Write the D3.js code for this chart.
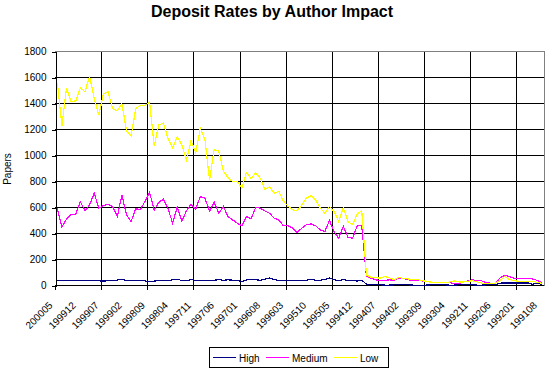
<!DOCTYPE html>
<html><head><meta charset="utf-8">
<script src="https://cdn.jsdelivr.net/npm/d3@7/dist/d3.min.js"></script>
<style>
body{margin:0;background:#fff}
svg{display:block}
text{font-family:"Liberation Sans",Arial,sans-serif;fill:#000}
</style>
</head><body>
<svg id="chart" width="549" height="369"></svg>
<script>
const title = "Deposit Rates by Author Impact";
const yAxisTitle = "Papers";
const months = [
"200005","200004","200003","200002","200001",
"199912","199911","199910","199909","199908","199907","199906","199905","199904","199903","199902","199901",
"199812","199811","199810","199809","199808","199807","199806","199805","199804","199803","199802","199801",
"199712","199711","199710","199709","199708","199707","199706","199705","199704","199703","199702","199701",
"199612","199611","199610","199609","199608","199607","199606","199605","199604","199603","199602","199601",
"199512","199511","199510","199509","199508","199507","199506","199505","199504","199503","199502","199501",
"199412","199411","199410","199409","199408","199407","199406","199405","199404","199403","199402","199401",
"199312","199311","199310","199309","199308","199307","199306","199305","199304","199303","199302","199301",
"199212","199211","199210","199209","199208","199207","199206","199205","199204","199203","199202","199201",
"199112","199111","199110","199109","199108"];
const high = [
41,36,36,36,36,36,39,41,41,36,34,36,38,42,49,38,36,40,41,36,
28,34,38,38,38,44,49,38,36,45,40,38,38,38,40,45,40,44,41,38,
30,42,48,44,40,48,57,45,40,40,40,40,41,41,41,49,41,41,46,57,
44,36,46,39,39,34,41,10,8,5,5,3,3,5,8,8,5,3,3,3,
3,5,8,8,5,3,3,5,8,8,5,3,3,5,8,8,18,20,20,20,
20,20,20,10,20,8];
const medium = [
595,450,510,545,550,645,575,620,710,595,615,625,608,530,695,543,492,590,585,646,
715,580,640,664,590,480,605,495,575,625,588,685,672,572,641,556,608,531,505,480,
459,531,513,600,595,574,556,518,505,459,459,441,408,441,467,474,459,428,415,500,
415,364,454,372,364,459,459,74,56,44,39,39,44,39,56,56,44,40,36,36,
31,26,26,26,24,24,15,15,26,35,44,36,36,20,18,18,60,80,69,56,
56,56,56,50,40,23];
const low = [
1560,1230,1520,1415,1420,1520,1490,1610,1440,1310,1475,1490,1360,1345,1400,1190,1150,1360,1385,1385,
1410,1075,1235,1250,1130,1060,1145,1080,965,1115,1020,1210,1120,810,1045,1035,880,830,800,800,
750,870,825,865,825,740,760,710,725,650,610,582,574,620,672,690,659,597,556,608,
569,492,597,492,467,551,574,82,62,62,56,69,60,44,64,55,51,44,48,38,
31,26,26,26,26,26,35,28,26,33,36,28,18,18,18,18,38,70,46,38,
32,30,28,32,25,18];
const yTicks = [0,200,400,600,800,1000,1200,1400,1600,1800];
const seriesNames = ["High","Medium","Low"];
const seriesColors = ["#000080","#FF00FF","#FFFF00"];
const seriesData = [high, medium, low];

const svg = d3.select("#chart");
const L = 55, R = 544, T = 51.5, B = 285.5;
const x = d3.scaleBand().domain(months).range([L, R]).paddingInner(0).paddingOuter(0);
const y = d3.scaleLinear().domain([0, 1800]).range([B, T]);
const bw = x.bandwidth();
const cx = d => x(d) + bw / 2;

// title
svg.append("text").attr("x", 272).attr("y", 17).attr("text-anchor", "middle")
  .style("font-size", "16px").style("font-weight", "bold").text(title);

// horizontal gridlines
svg.append("g").selectAll("line").data(yTicks.filter(v => v > 0 && v < 1800)).join("line")
  .attr("x1", L).attr("x2", R).attr("y1", d => y(d)).attr("y2", d => y(d))
  .attr("stroke", "#000").attr("stroke-width", 1).attr("shape-rendering", "crispEdges");

// vertical gridlines every 10 categories (at category boundaries)
const gridCats = months.filter((m, i) => i % 10 === 0);
const gx = d => Math.round(x(d)) + 0.5;
svg.append("g").selectAll("line").data(gridCats.slice(1)).join("line")
  .attr("x1", gx).attr("x2", gx).attr("y1", T).attr("y2", B)
  .attr("stroke", "#000").attr("stroke-width", 1).attr("shape-rendering", "crispEdges");

// plot border top / right (gray)
svg.append("line").attr("x1", L).attr("x2", R + 0.5).attr("y1", T).attr("y2", T)
  .attr("stroke", "#808080").attr("shape-rendering", "crispEdges");
svg.append("line").attr("x1", R + 0.5).attr("x2", R + 0.5).attr("y1", T).attr("y2", B)
  .attr("stroke", "#808080").attr("shape-rendering", "crispEdges");

// y axis
const yAxis = d3.axisLeft(y).tickValues(yTicks).tickSize(4).tickPadding(5).tickFormat(d3.format("d"));
const yg = svg.append("g").attr("transform", `translate(${L + 0.5},0)`).call(yAxis);
yg.select(".domain").attr("stroke", "#000").attr("shape-rendering", "crispEdges");
yg.selectAll(".tick line").attr("stroke", "#000").attr("shape-rendering", "crispEdges");
yg.selectAll("text").style("font-size", "10px").style("font-family", '"Liberation Sans",Arial,sans-serif');

// x axis line and ticks
svg.append("line").attr("x1", L).attr("x2", R).attr("y1", B).attr("y2", B)
  .attr("stroke", "#000").attr("shape-rendering", "crispEdges");
svg.append("g").selectAll("line").data(gridCats).join("line")
  .attr("x1", gx).attr("x2", gx).attr("y1", B).attr("y2", B + 4)
  .attr("stroke", "#000").attr("shape-rendering", "crispEdges");

// x labels every 5 categories
svg.append("g").selectAll("text").data(months.filter((m, i) => i % 5 === 0)).join("text")
  .attr("transform", d => `translate(${cx(d) - 4},306) rotate(-45)`)
  .attr("text-anchor", "end").style("font-size", "10px").text(d => d);

// y axis title
svg.append("text").attr("transform", "translate(11,169) rotate(-90)")
  .attr("text-anchor", "middle").style("font-size", "10px").text(yAxisTitle);

// series
const line = d3.line().x((d, i) => cx(months[i])).y(d => y(d));
seriesData.forEach((s, k) => {
  svg.append("path").datum(s).attr("d", line).attr("fill", "none")
    .attr("stroke", seriesColors[k]).attr("stroke-width", 1.2)
    .attr("shape-rendering", "crispEdges");
});

// legend
const lg = svg.append("g");
lg.append("rect").attr("x", 209.5).attr("y", 347.5).attr("width", 178.5).attr("height", 20)
  .attr("fill", "#fff").attr("stroke", "#000").attr("shape-rendering", "crispEdges");
const legX = [213, 266, 334];
seriesNames.forEach((n, k) => {
  lg.append("line").attr("x1", legX[k]).attr("x2", legX[k] + 23).attr("y1", 357.5).attr("y2", 357.5)
    .attr("stroke", seriesColors[k]).attr("stroke-width", 1).attr("shape-rendering", "crispEdges");
  lg.append("text").attr("x", legX[k] + 26).attr("y", 361.5).style("font-size", "10px").text(n);
});
</script>
</body></html>
